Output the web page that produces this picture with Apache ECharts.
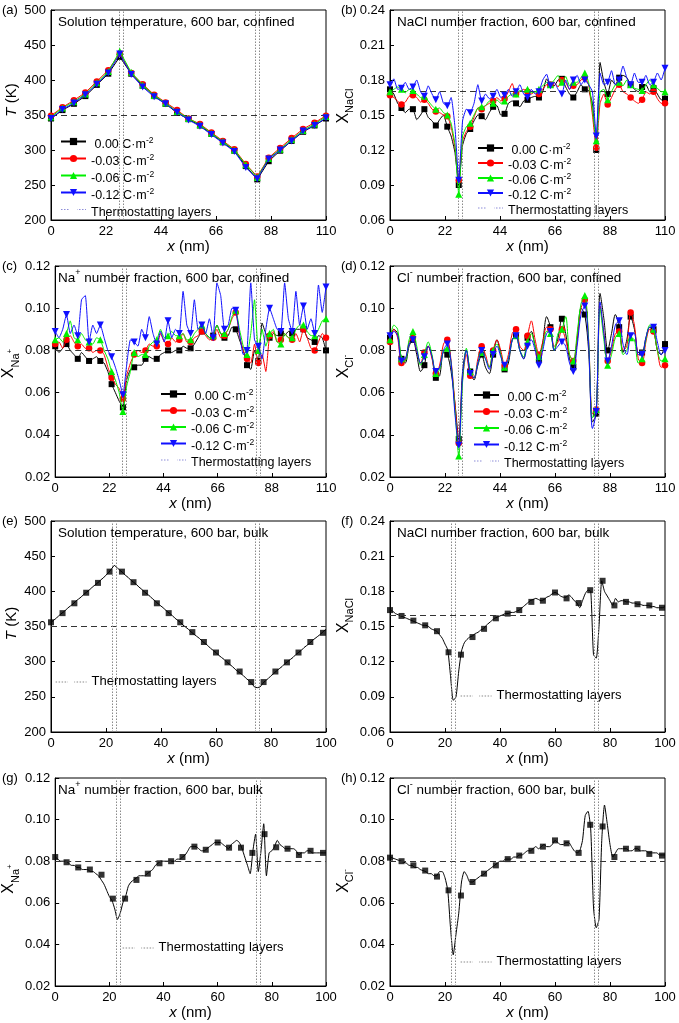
<!DOCTYPE html>
<html>
<head>
<meta charset="utf-8">
<title>Temperature and number fraction profiles</title>
<script src="https://cdn.jsdelivr.net/npm/echarts@6/dist/echarts.min.js"></script>
<style>
html,body{margin:0;padding:0;background:#fff;}
#chart{width:679px;height:1023px;}
</style>
</head>
<body>
<div id="chart"></div>
<script>
// ================= DATA =================
const chargeNames = [' 0.00 C·m-2', '-0.03 C·m-2', '-0.06 C·m-2', '-0.12 C·m-2'];
const thermoName = 'Thermostatting layers';
const confXMax = 110;          // confined box length (nm)
const bulkXMax = 100;          // bulk box length (nm)
const confTempSamples = 24;    // intervals sampled in panel (a)
const confSamples = 72;        // intervals sampled in panels (b)-(d)
const bulkStep = 1;            // nm between bulk samples

// thermostatting layer edges (nm)
const thermoConf = [27.1, 28.8, 81.6, 83.3];
const thermoBulk = [22.4, 23.9, 74.2, 75.7];
// reference (dashed) levels
const refTempConf = 350, refNaclConf = 0.165, refNaConf = 0.08, refClConf = 0.08;
const refTempBulk = 350, refNaclBulk = 0.16, refNaBulk = 0.08, refClBulk = 0.08;

// (a) temperature, confined
const tempConf0  = [345,357,366,377,393,409,433,409,392,377,366,353,344,335,323,311,299,277,258,284,299,313,326,335,345];
const tempConf3  = [349,361,371,382,398,414,438,410,394,379,368,357,345,337,325,313,301,280,262,289,303,317,330,339,349];
const tempConf6  = [347,360,369,380,396,412,441,411,393,378,367,355,345,336,324,312,300,279,261,288,301,315,328,337,348];
const tempConf12 = [345,358,367,379,394,410,437,408,390,376,366,354,343,334,322,310,298,275,259,287,300,313,327,335,346];

// (b) NaCl number fraction, confined
const naclConf0 = [0.172,0.168,0.160,0.156,0.152,0.155,0.155,0.146,0.150,0.155,
 0.148,0.145,0.141,0.146,0.150,0.140,0.132,0.118,0.090,0.124,
 0.134,0.138,0.145,0.150,0.149,0.146,0.152,0.157,0.158,0.150,
 0.151,0.160,0.162,0.160,0.157,0.162,0.163,0.165,0.166,0.165,
 0.170,0.181,0.176,0.175,0.180,0.181,0.174,0.168,0.165,0.170,
 0.176,0.172,0.171,0.160,0.120,0.195,0.178,0.168,0.180,0.176,
 0.182,0.184,0.182,0.176,0.172,0.170,0.174,0.176,0.170,0.173,
 0.168,0.163,0.164];
const naclConf3 = [0.167,0.165,0.162,0.159,0.161,0.166,0.167,0.165,0.161,0.163,
 0.160,0.155,0.153,0.152,0.150,0.149,0.140,0.122,0.094,0.128,
 0.136,0.140,0.148,0.156,0.155,0.158,0.160,0.162,0.165,0.162,
 0.164,0.170,0.177,0.168,0.170,0.172,0.170,0.168,0.170,0.168,
 0.172,0.176,0.176,0.178,0.174,0.180,0.178,0.172,0.175,0.176,
 0.180,0.182,0.176,0.150,0.122,0.160,0.168,0.159,0.165,0.172,
 0.176,0.170,0.168,0.165,0.162,0.160,0.163,0.170,0.168,0.170,
 0.164,0.160,0.160];
const naclConf6 = [0.170,0.172,0.174,0.172,0.169,0.172,0.171,0.168,0.165,0.166,
 0.162,0.158,0.155,0.156,0.152,0.150,0.143,0.125,0.082,0.132,
 0.140,0.143,0.150,0.156,0.157,0.158,0.162,0.160,0.163,0.160,
 0.162,0.166,0.168,0.168,0.171,0.170,0.172,0.169,0.170,0.172,
 0.175,0.178,0.176,0.180,0.184,0.178,0.183,0.175,0.178,0.178,
 0.182,0.186,0.178,0.155,0.128,0.170,0.172,0.163,0.170,0.176,
 0.178,0.175,0.180,0.176,0.173,0.172,0.171,0.176,0.180,0.176,
 0.173,0.170,0.170];
const naclConf12 = [0.176,0.181,0.172,0.173,0.178,0.172,0.174,0.180,0.170,0.166,
 0.175,0.168,0.163,0.170,0.160,0.158,0.165,0.140,0.094,0.145,
 0.155,0.152,0.160,0.176,0.162,0.168,0.164,0.166,0.172,0.165,
 0.167,0.172,0.166,0.170,0.176,0.168,0.165,0.172,0.168,0.170,
 0.180,0.185,0.175,0.178,0.172,0.168,0.180,0.172,0.180,0.184,
 0.176,0.180,0.176,0.170,0.132,0.186,0.176,0.178,0.188,0.176,
 0.180,0.192,0.182,0.176,0.186,0.178,0.178,0.184,0.176,0.178,
 0.186,0.180,0.190];

// (c) Na+ number fraction, confined
const naConf0 = [0.082,0.079,0.081,0.083,0.080,0.078,0.076,0.079,0.077,0.075,
 0.076,0.077,0.075,0.074,0.070,0.064,0.060,0.056,0.053,0.066,
 0.071,0.072,0.073,0.073,0.076,0.077,0.076,0.076,0.078,0.079,
 0.080,0.079,0.080,0.080,0.082,0.081,0.081,0.083,0.086,0.089,
 0.088,0.086,0.087,0.092,0.088,0.086,0.087,0.091,0.090,0.085,
 0.080,0.073,0.071,0.080,0.075,0.093,0.088,0.086,0.088,0.087,
 0.088,0.087,0.089,0.088,0.090,0.090,0.090,0.086,0.085,0.084,
 0.087,0.086,0.080];
const naConf3 = [0.083,0.084,0.081,0.085,0.087,0.084,0.082,0.083,0.081,0.081,
 0.079,0.080,0.080,0.078,0.072,0.067,0.064,0.062,0.057,0.068,
 0.074,0.078,0.080,0.079,0.080,0.083,0.082,0.082,0.088,0.084,
 0.083,0.086,0.084,0.085,0.088,0.084,0.084,0.086,0.087,0.089,
 0.087,0.085,0.086,0.090,0.086,0.087,0.090,0.095,0.098,0.087,
 0.080,0.076,0.074,0.083,0.074,0.078,0.070,0.087,0.089,0.084,
 0.085,0.088,0.086,0.085,0.088,0.084,0.090,0.086,0.081,0.080,
 0.084,0.088,0.086];
const naConf6 = [0.085,0.086,0.084,0.088,0.094,0.086,0.085,0.088,0.085,0.084,
 0.083,0.086,0.085,0.080,0.076,0.070,0.066,0.060,0.051,0.063,
 0.070,0.079,0.077,0.078,0.078,0.082,0.084,0.085,0.090,0.086,
 0.087,0.089,0.087,0.087,0.088,0.085,0.085,0.088,0.090,0.092,
 0.088,0.086,0.087,0.092,0.088,0.088,0.090,0.096,0.099,0.090,
 0.082,0.078,0.088,0.104,0.080,0.090,0.082,0.088,0.090,0.084,
 0.083,0.088,0.086,0.086,0.090,0.092,0.092,0.089,0.087,0.087,
 0.090,0.094,0.095];
const naConf12 = [0.089,0.086,0.090,0.097,0.088,0.092,0.087,0.104,0.106,0.084,
 0.092,0.088,0.092,0.086,0.080,0.077,0.072,0.066,0.059,0.073,
 0.085,0.084,0.082,0.090,0.086,0.096,0.088,0.083,0.089,0.084,
 0.094,0.086,0.090,0.088,0.108,0.092,0.088,0.104,0.090,0.092,
 0.088,0.095,0.086,0.112,0.106,0.090,0.092,0.100,0.099,0.088,
 0.078,0.080,0.112,0.085,0.082,0.076,0.090,0.100,0.095,0.090,
 0.089,0.112,0.095,0.089,0.108,0.092,0.101,0.090,0.095,0.088,
 0.111,0.098,0.110];

// (d) Cl- number fraction, confined
const clConf0 = [0.086,0.090,0.088,0.076,0.074,0.082,0.085,0.078,0.070,0.073,
 0.082,0.077,0.067,0.068,0.079,0.078,0.070,0.055,0.038,0.070,
 0.080,0.070,0.066,0.073,0.078,0.072,0.069,0.078,0.085,0.078,
 0.071,0.074,0.085,0.087,0.080,0.076,0.086,0.089,0.082,0.076,
 0.084,0.096,0.091,0.080,0.086,0.095,0.088,0.076,0.072,0.085,
 0.100,0.097,0.080,0.046,0.050,0.107,0.095,0.080,0.088,0.097,
 0.091,0.079,0.085,0.096,0.090,0.079,0.079,0.086,0.091,0.090,
 0.080,0.078,0.083];
const clConf3 = [0.084,0.090,0.086,0.074,0.075,0.084,0.086,0.080,0.074,0.079,
 0.082,0.076,0.069,0.073,0.083,0.085,0.075,0.055,0.036,0.066,
 0.078,0.068,0.067,0.076,0.082,0.078,0.072,0.080,0.085,0.080,
 0.073,0.078,0.088,0.090,0.082,0.080,0.087,0.094,0.085,0.078,
 0.084,0.091,0.090,0.082,0.084,0.090,0.085,0.078,0.075,0.086,
 0.100,0.104,0.085,0.050,0.052,0.101,0.088,0.075,0.080,0.088,
 0.089,0.080,0.082,0.098,0.092,0.076,0.074,0.084,0.090,0.089,
 0.080,0.072,0.073];
const clConf6 = [0.085,0.092,0.090,0.076,0.075,0.085,0.089,0.082,0.073,0.078,
 0.084,0.078,0.069,0.071,0.080,0.081,0.074,0.052,0.030,0.065,
 0.081,0.070,0.067,0.074,0.079,0.076,0.072,0.080,0.083,0.078,
 0.072,0.076,0.085,0.087,0.080,0.077,0.084,0.088,0.082,0.077,
 0.082,0.089,0.088,0.080,0.088,0.090,0.096,0.078,0.075,0.088,
 0.102,0.106,0.085,0.048,0.052,0.100,0.085,0.073,0.078,0.086,
 0.088,0.078,0.080,0.086,0.085,0.074,0.076,0.085,0.092,0.090,
 0.080,0.075,0.076];
const clConf12 = [0.087,0.089,0.087,0.075,0.076,0.083,0.085,0.080,0.074,0.077,
 0.082,0.077,0.070,0.072,0.080,0.083,0.074,0.050,0.035,0.068,
 0.080,0.069,0.067,0.074,0.080,0.076,0.071,0.078,0.082,0.077,
 0.073,0.076,0.085,0.087,0.080,0.076,0.082,0.085,0.080,0.073,
 0.080,0.088,0.089,0.080,0.082,0.084,0.082,0.074,0.070,0.082,
 0.097,0.101,0.083,0.043,0.051,0.103,0.088,0.075,0.082,0.092,
 0.094,0.083,0.078,0.087,0.088,0.078,0.078,0.086,0.091,0.091,
 0.084,0.078,0.080];

// bulk: line samples (every bulkStep nm, 0..100)
const tempBulk = [356,359,362,366,369,372,376,379,382,386,
 389,392,396,399,402,406,409,412,416,419,
 423,427,432,437,434,430,427,423,420,416,
 413,410,406,403,399,396,393,389,386,382,
 379,376,372,369,366,362,359,356,352,349,
 346,342,339,336,333,329,326,323,319,316,
 313,309,306,303,299,296,293,289,286,283,
 280,276,273,269,264,263,264,269,273,276,
 280,283,287,290,293,297,300,303,306,310,
 313,316,320,323,326,330,333,336,339,343,
 346];
const naclBulk = [0.164,0.163,0.161,0.160,0.159,0.158,0.157,0.156,0.155,0.154,
 0.153,0.152,0.151,0.151,0.150,0.148,0.147,0.146,0.143,0.140,
 0.135,0.130,0.108,0.087,0.090,0.112,0.129,0.136,0.139,0.141,
 0.142,0.144,0.145,0.147,0.148,0.151,0.153,0.155,0.157,0.158,
 0.159,0.160,0.161,0.161,0.162,0.162,0.163,0.164,0.166,0.168,
 0.170,0.172,0.173,0.174,0.173,0.172,0.173,0.175,0.176,0.178,
 0.179,0.178,0.176,0.175,0.175,0.177,0.175,0.172,0.170,0.166,
 0.172,0.178,0.181,0.180,0.126,0.123,0.150,0.189,0.180,0.176,
 0.172,0.168,0.174,0.171,0.172,0.172,0.171,0.171,0.170,0.170,
 0.169,0.169,0.168,0.168,0.168,0.167,0.167,0.166,0.166,0.166,
 0.167];
const naBulk = [0.082,0.081,0.080,0.080,0.080,0.079,0.078,0.078,0.077,0.077,
 0.076,0.076,0.076,0.075,0.075,0.074,0.073,0.071,0.069,0.066,
 0.063,0.061,0.057,0.052,0.055,0.060,0.063,0.068,0.070,0.071,
 0.072,0.073,0.073,0.073,0.074,0.075,0.076,0.078,0.079,0.080,
 0.080,0.080,0.080,0.080,0.080,0.081,0.081,0.082,0.083,0.085,
 0.087,0.087,0.087,0.086,0.085,0.085,0.086,0.087,0.088,0.089,
 0.089,0.089,0.088,0.087,0.086,0.088,0.089,0.090,0.089,0.086,
 0.082,0.078,0.074,0.085,0.093,0.075,0.085,0.098,0.073,0.084,
 0.085,0.087,0.090,0.088,0.087,0.086,0.086,0.086,0.086,0.085,
 0.083,0.084,0.084,0.085,0.085,0.084,0.084,0.084,0.084,0.084,
 0.084];
const clBulk = [0.082,0.0815,0.081,0.0805,0.080,0.0795,0.079,0.078,0.078,0.077,
 0.077,0.076,0.0755,0.075,0.074,0.074,0.073,0.073,0.075,0.075,
 0.072,0.066,0.048,0.035,0.045,0.055,0.070,0.075,0.073,0.070,
 0.070,0.071,0.072,0.073,0.0735,0.075,0.076,0.077,0.078,0.079,
 0.080,0.080,0.081,0.081,0.081,0.082,0.082,0.083,0.083,0.084,
 0.085,0.085,0.086,0.087,0.086,0.087,0.088,0.087,0.087,0.088,
 0.090,0.089,0.088,0.088,0.089,0.089,0.087,0.085,0.084,0.085,
 0.090,0.102,0.104,0.095,0.058,0.048,0.052,0.090,0.107,0.098,
 0.088,0.082,0.084,0.086,0.086,0.086,0.086,0.085,0.085,0.086,
 0.086,0.085,0.085,0.085,0.084,0.084,0.084,0.084,0.083,0.083,
 0.083];

// bulk: marker positions (nm) and values
const bulkMarkX = [0,4.2,8.5,12.8,17.1,21.3,25.8,30,34.2,38.5,42.8,47,51.4,55.6,60,64.2,68.6,72.8,77.3,81.6,85.8,90,94.3,98.9];
const tempBulkMk = [356,369,383,398,412,428,428,413,398,383,369,356,342,328,313,299,286,271,271,286,299,313,328,341];
const naclBulkMk = [0.164,0.159,0.155,0.151,0.146,0.128,0.126,0.141,0.148,0.157,0.161,0.164,0.171,0.172,0.179,0.174,0.170,0.181,0.189,0.168,0.171,0.169,0.168,0.166];
const naBulkMk = [0.082,0.0795,0.077,0.076,0.0735,0.062,0.062,0.071,0.074,0.079,0.080,0.082,0.087,0.0855,0.089,0.0865,0.0865,0.084,0.093,0.0867,0.086,0.083,0.085,0.084];
const clBulkMk = [0.0817,0.080,0.078,0.0755,0.0726,0.066,0.0635,0.070,0.074,0.078,0.081,0.0827,0.085,0.087,0.090,0.0886,0.084,0.0975,0.0967,0.082,0.086,0.086,0.0835,0.0827];

// ================= STYLE / LAYOUT =================
const FONT = '"Liberation Sans", Arial, Helvetica, sans-serif';
const chargeColors = ['#000000', '#ff0000', '#00f000', '#1010ff'];
const chargeSymbols = ['rect', 'circle', 'triangle', 'path://M0,0L10,0L5,9Z'];
const chargeSymSize = [6, 6.5, 7, 7];

const richAxis = {
  i: {fontFamily: FONT, fontSize: 15, fontStyle: 'italic', lineHeight: 17, verticalAlign: 'top', color: '#000'},
  r: {fontFamily: FONT, fontSize: 15, lineHeight: 17, verticalAlign: 'top', color: '#000'},
  X: {fontFamily: FONT, fontSize: 16, lineHeight: 18, verticalAlign: 'top', color: '#000'},
  sub: {fontFamily: FONT, fontSize: 11, lineHeight: 12, verticalAlign: 'top', padding: [9, 0, 0, 0], color: '#000'},
  ss: {fontFamily: FONT, fontSize: 8, lineHeight: 9, verticalAlign: 'top', padding: [5, 0, 0, 0], color: '#000'}
};
const richTitle = {
  t: {fontFamily: FONT, fontSize: 13.5, lineHeight: 15, verticalAlign: 'top', padding: [3, 0, 0, 0], color: '#000'},
  sup: {fontFamily: FONT, fontSize: 9, lineHeight: 10, verticalAlign: 'top', color: '#000'}
};
const richLegendConf = {
  n: {fontFamily: FONT, fontSize: 12.5, lineHeight: 11, verticalAlign: 'top', padding: [2, 0, 0, 0], color: '#000'},
  sup: {fontFamily: FONT, fontSize: 8.5, lineHeight: 9, verticalAlign: 'top', color: '#000'}
};
const richLegendBulk = {
  n: {fontFamily: FONT, fontSize: 13, lineHeight: 15, verticalAlign: 'top', color: '#000'}
};

const PW = 275;
const panels = [
  {id: '(a)', left: 51,  top: 10,  h: 210, xMax: confXMax, xInt: 22, yMin: 200,  yMax: 500,  yInt: 50,   dec: 0, yName: '{i|T}{r| (K)}',          yShift: 15, title: '{t|Solution temperature, 600 bar, confined}', ref: refTempConf, thermo: thermoConf},
  {id: '(b)', left: 390, top: 10,  h: 210, xMax: confXMax, xInt: 22, yMin: 0.06, yMax: 0.24, yInt: 0.03, dec: 2, yName: '{X|X}{sub|NaCl}',        yShift: 9,  title: '{t|NaCl number fraction, 600 bar, confined}', ref: refNaclConf, thermo: thermoConf},
  {id: '(c)', left: 51,  top: 266, h: 211, xMax: confXMax, xInt: 22, yMin: 0.02, yMax: 0.12, yInt: 0.02, dec: 2, yName: '{X|X}{sub|Na}{ss|+}',    yShift: 8,  title: '{t|Na}{sup|+}{t| number fraction, 600 bar, confined}', ref: refNaConf, thermo: thermoConf},
  {id: '(d)', left: 390, top: 266, h: 211, xMax: confXMax, xInt: 22, yMin: 0.02, yMax: 0.12, yInt: 0.02, dec: 2, yName: '{X|X}{sub|Cl}{ss|-}',    yShift: 5,  title: '{t|Cl}{sup|-}{t| number fraction, 600 bar, confined}', ref: refClConf, thermo: thermoConf},
  {id: '(e)', left: 51,  top: 521, h: 211, xMax: bulkXMax, xInt: 20, yMin: 200,  yMax: 500,  yInt: 50,   dec: 0, yName: '{i|T}{r| (K)}',          yShift: 3,  title: '{t|Solution temperature, 600 bar, bulk}', ref: refTempBulk, thermo: thermoBulk},
  {id: '(f)', left: 390, top: 521, h: 211, xMax: bulkXMax, xInt: 20, yMin: 0.06, yMax: 0.24, yInt: 0.03, dec: 2, yName: '{X|X}{sub|NaCl}',        yShift: 11, title: '{t|NaCl number fraction, 600 bar, bulk}', ref: refNaclBulk, thermo: thermoBulk},
  {id: '(g)', left: 51,  top: 778, h: 208, xMax: bulkXMax, xInt: 20, yMin: 0.02, yMax: 0.12, yInt: 0.02, dec: 2, yName: '{X|X}{sub|Na}{ss|+}',    yShift: 3,  title: '{t|Na}{sup|+}{t| number fraction, 600 bar, bulk}', ref: refNaBulk, thermo: thermoBulk},
  {id: '(h)', left: 390, top: 778, h: 208, xMax: bulkXMax, xInt: 20, yMin: 0.02, yMax: 0.12, yInt: 0.02, dec: 2, yName: '{X|X}{sub|Cl}{ss|-}',    yShift: 1,  title: '{t|Cl}{sup|-}{t| number fraction, 600 bar, bulk}', ref: refClBulk, thermo: thermoBulk}
];

const confLegendPos = [
  {left: 60,  top: 136, gap: 2},
  {left: 477, top: 142.5, gap: 0},
  {left: 160, top: 388.5, gap: 1.5},
  {left: 473, top: 389.5, gap: 1.5}
];
const bulkLegendPos = [
  {left: 55,  top: 674.5},
  {left: 460, top: 688.5},
  {left: 122, top: 940.5},
  {left: 460, top: 954.5}
];

// ================= BUILD =================
const option = {
  animation: false,
  backgroundColor: '#ffffff',
  textStyle: {fontFamily: FONT},
  grid: [], xAxis: [], yAxis: [], series: [], title: [], legend: []
};

panels.forEach((p, gi) => {
  option.grid.push({left: p.left, top: p.top, width: PW, height: p.h, show: true,
    borderColor: '#000', borderWidth: 1, backgroundColor: 'transparent', containLabel: false});
  const axisLine = {show: true, onZero: false, lineStyle: {color: '#000', width: 1}};
  const axisTick = {show: true, inside: true, length: 4, lineStyle: {color: '#000', width: 1}};
  option.xAxis.push({
    gridIndex: gi, type: 'value', min: 0, max: p.xMax, interval: p.xInt,
    axisLine, axisTick,
    axisLabel: {color: '#000', fontFamily: FONT, fontSize: 13, margin: 5},
    splitLine: {show: false},
    name: '{i|x}{r| (nm)}', nameLocation: 'middle', nameGap: 17.5,
    nameTextStyle: {rich: richAxis}
  });
  option.yAxis.push({
    gridIndex: gi, type: 'value', min: p.yMin, max: p.yMax, interval: p.yInt,
    axisLine, axisTick,
    axisLabel: {color: '#000', fontFamily: FONT, fontSize: 13, margin: 5,
      formatter: v => Number(v).toFixed(p.dec)},
    splitLine: {show: false},
    name: p.yName, nameLocation: 'middle', nameGap: 30, nameRotate: 90,
    nameTextStyle: {rich: richAxis, padding: [0, 0, 0, 2 * p.yShift]}
  });
  // panel label
  option.title.push({text: p.id, left: p.left - 49, top: p.top - 7.5, padding: 0,
    textStyle: {fontFamily: FONT, fontSize: 13, fontWeight: 'normal', color: '#000', lineHeight: 15}});
  // in-plot title
  option.title.push({text: p.title, left: p.left + 7, top: p.top + 2, padding: 0,
    textStyle: {fontFamily: FONT, fontSize: 13.5, fontWeight: 'normal', color: '#000', rich: richTitle}});
  // dashed reference level
  option.series.push({
    type: 'line', name: 'reference' + gi, xAxisIndex: gi, yAxisIndex: gi, data: [],
    silent: true, z: 2,
    markLine: {silent: true, symbol: ['none', 'none'], label: {show: false}, animation: false,
      lineStyle: {color: '#333', type: [6, 4], width: 1.2},
      data: [{yAxis: p.ref}]}
  });
  // thermostatting layers
  option.series.push({
    type: 'line', name: thermoName, xAxisIndex: gi, yAxisIndex: gi, data: [],
    showSymbol: false, silent: true, z: 1,
    lineStyle: {color: '#8a8a8a', type: 'dotted', width: 1},
    markLine: {silent: true, symbol: ['none', 'none'], label: {show: false}, animation: false,
      lineStyle: {color: '#8a8a8a', type: [1.5, 1.5], width: 1},
      data: p.thermo.map(x => ({xAxis: x}))}
  });
});

function addConfined(gi, arrays, intervals, every, smooth) {
  const dx = confXMax / intervals;
  arrays.forEach((arr, k) => {
    option.series.push({
      type: 'line', name: chargeNames[k], xAxisIndex: gi, yAxisIndex: gi,
      data: arr.map((v, j) => [j * dx, v]),
      symbol: chargeSymbols[k], showSymbol: true, showAllSymbol: true,
      symbolSize: (val, prm) => (prm.dataIndex % every === 0 ? chargeSymSize[k] : 0),
      itemStyle: {color: chargeColors[k]},
      lineStyle: {color: chargeColors[k], width: 1},
      smooth: smooth, silent: true, z: 3 + k
    });
  });
}
addConfined(0, [tempConf0, tempConf3, tempConf6, tempConf12], confTempSamples, 1, false);
addConfined(1, [naclConf0, naclConf3, naclConf6, naclConf12], confSamples, 3, 0.15);
addConfined(2, [naConf0, naConf3, naConf6, naConf12], confSamples, 3, 0.15);
addConfined(3, [clConf0, clConf3, clConf6, clConf12], confSamples, 3, 0.3);

function addBulk(gi, line, marks, smooth) {
  option.series.push({
    type: 'line', name: 'bulk' + gi, xAxisIndex: gi, yAxisIndex: gi,
    data: line.map((v, j) => [j * bulkStep, v]),
    showSymbol: false, smooth: smooth, silent: true, z: 3,
    lineStyle: {color: '#000', width: 1}
  });
  option.series.push({
    type: 'scatter', name: 'bulkMarks' + gi, xAxisIndex: gi, yAxisIndex: gi,
    data: bulkMarkX.map((x, j) => [x, marks[j]]),
    symbol: 'rect', symbolSize: 6, itemStyle: {color: '#000'}, silent: true, z: 4
  });
}
addBulk(4, tempBulk, tempBulkMk, false);
addBulk(5, naclBulk, naclBulkMk, 0.2);
addBulk(6, naBulk, naBulkMk, 0.2);
addBulk(7, clBulk, clBulkMk, 0.2);

const thermoLegendConf = {name: thermoName,
  itemStyle: {color: 'rgba(0,0,0,0)', borderColor: 'rgba(0,0,0,0)', borderWidth: 0},
  lineStyle: {color: '#8c8cd8', type: [1.5, 1.5], width: 1.2}};
const thermoLegendBulk = {name: thermoName,
  itemStyle: {color: 'rgba(0,0,0,0)', borderColor: 'rgba(0,0,0,0)', borderWidth: 0},
  lineStyle: {color: '#8a8a8a', type: [1.5, 1.5], width: 1.2}};

confLegendPos.forEach(lp => {
  option.legend.push({
    orient: 'vertical', left: lp.left, top: lp.top, padding: 0,
    itemWidth: 25, itemHeight: 9, itemGap: lp.gap, selectedMode: false,
    data: chargeNames.concat([thermoLegendConf]),
    formatter: name => (name.endsWith('m-2')
      ? '{n|' + name.slice(0, -2) + '}{sup|-2}'
      : '{n|' + name + '}'),
    textStyle: {color: '#000', fontFamily: FONT, fontSize: 12.5, rich: richLegendConf}
  });
});
bulkLegendPos.forEach(lp => {
  option.legend.push({
    orient: 'vertical', left: lp.left, top: lp.top, padding: 0,
    itemWidth: 31, itemHeight: 8, selectedMode: false,
    data: [thermoLegendBulk],
    formatter: name => '{n|' + name + '}',
    textStyle: {color: '#000', fontFamily: FONT, fontSize: 13, rich: richLegendBulk}
  });
});

const chart = echarts.init(document.getElementById('chart'), null, {renderer: 'canvas'});
chart.setOption(option);
</script>
</body>
</html>
